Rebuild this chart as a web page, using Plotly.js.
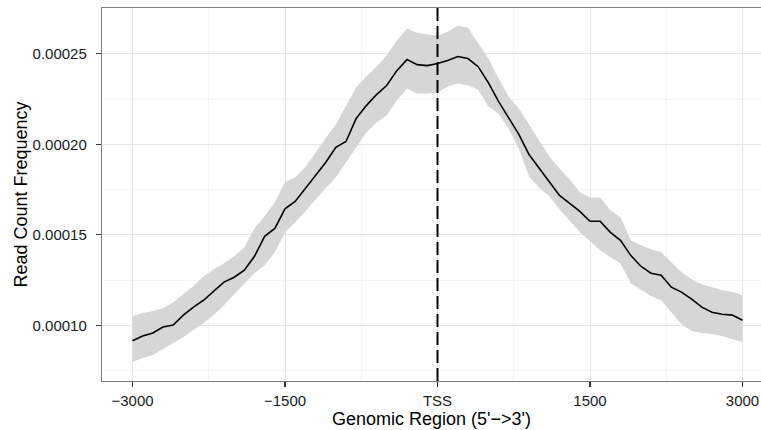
<!DOCTYPE html>
<html>
<head>
<meta charset="utf-8">
<script src="https://cdn.plot.ly/plotly-3.0.1.min.js"></script>
<style>html,body{margin:0;padding:0;background:#fff;}#chart{width:761px;height:430px;}</style>
</head>
<body>
<div id="chart"></div>
<script>
// Genomic positions relative to TSS
var positions = [-3000,-2900,-2800,-2700,-2600,-2500,-2400,-2300,-2200,-2100,-2000,-1900,-1800,-1700,-1600,-1500,-1400,-1300,-1200,-1100,-1000,-900,-800,-700,-600,-500,-400,-300,-200,-100,0,100,200,300,400,500,600,700,800,900,1000,1100,1200,1300,1400,1500,1600,1700,1800,1900,2000,2100,2200,2300,2400,2500,2600,2700,2800,2900,3000];
// Read count frequency (x 1e-5)
var frequency = [9.15,9.41,9.58,9.91,10.02,10.57,11.01,11.39,11.89,12.39,12.66,13.05,13.82,14.92,15.36,16.44,16.85,17.57,18.23,19.00,19.83,20.16,21.43,22.14,22.75,23.25,24.07,24.68,24.40,24.35,24.46,24.63,24.85,24.74,24.29,23.41,22.37,21.48,20.55,19.44,18.67,17.90,17.18,16.74,16.30,15.75,15.75,15.14,14.70,13.87,13.27,12.88,12.77,12.11,11.84,11.45,11.01,10.73,10.62,10.57,10.29];
var upperBand = [10.51,10.68,10.79,10.95,11.28,11.73,12.17,12.72,13.10,13.43,13.82,14.32,15.36,16.03,16.80,17.90,18.18,18.73,19.55,20.33,21.10,22.09,23.14,23.74,24.29,24.90,25.73,26.39,26.17,26.06,26.00,26.22,26.55,26.44,25.62,24.74,23.63,22.64,21.98,21.10,20.22,19.33,18.67,18.07,17.35,17.07,17.07,16.36,15.97,14.70,14.43,14.21,14.04,13.49,12.94,12.55,12.28,12.11,11.95,11.84,11.67];
var lowerBand = [7.98,8.20,8.36,8.69,9.02,9.36,9.74,10.13,10.57,11.12,11.73,12.28,12.88,13.32,14.04,15.14,15.69,16.30,16.96,17.57,18.18,19.00,19.83,20.66,21.21,21.59,22.42,23.08,22.81,22.81,22.86,23.19,23.36,23.25,23.03,22.09,21.70,20.88,19.77,18.23,17.62,17.13,16.41,15.75,15.14,14.65,14.15,13.77,13.43,12.33,11.95,11.62,11.39,10.73,10.07,9.69,9.58,9.52,9.41,9.24,9.08];
var valueScale = 1e-5;
var tssPosition = 0;
var xTickVals = [-3000,-1500,0,1500,3000];
var xTickText = ['\u22123000','\u22121500','TSS','1500','3000'];
var yTickVals = [0.00010,0.00015,0.00020,0.00025];
var yTickText = ['0.00010','0.00015','0.00020','0.00025'];

function sc(a){return a.map(function(v){return v*valueScale;});}

var traces = [
  {x: positions, y: sc(lowerBand), type:'scatter', mode:'lines', line:{width:0, color:'#d6d6d6'}, hoverinfo:'skip', showlegend:false},
  {x: positions, y: sc(upperBand), type:'scatter', mode:'lines', fill:'tonexty', fillcolor:'#d6d6d6', line:{width:0, color:'#d6d6d6'}, hoverinfo:'skip', showlegend:false},
  {x: positions, y: sc(frequency), type:'scatter', mode:'lines', line:{width:1.6, color:'#000000'}, showlegend:false}
];

var tickFont = {family:'Liberation Sans, Arial, sans-serif', size:15, color:'#1a1a1a'};
var titleFont = {family:'Liberation Sans, Arial, sans-serif', size:18, color:'#000000'};

var layout = {
  width:761, height:430,
  margin:{l:102, r:0, t:8, b:49, pad:0},
  paper_bgcolor:'#ffffff', plot_bgcolor:'#ffffff',
  showlegend:false,
  xaxis:{
    range:[-3300, 3182], tickvals:xTickVals, ticktext:xTickText,
    showline:true, linecolor:'#7f7f7f', linewidth:1.2, mirror:true,
    ticks:'outside', ticklen:5, tickcolor:'#333333', tickwidth:1.2,
    showgrid:true, gridcolor:'#e6e6e6', gridwidth:1,
    minor:{tickvals:[-2250,-750,750,2250], showgrid:true, gridcolor:'#f4f4f4', gridwidth:1, ticks:''},
    zeroline:false, tickfont:tickFont, ticklabelstandoff:1,
    title:{text:"Genomic Region (5'\u2212>3')", font:titleFont, standoff:1}
  },
  yaxis:{
    range:[0.0000693, 0.0002753], tickvals:yTickVals, ticktext:yTickText,
    showline:true, linecolor:'#7f7f7f', linewidth:1.2, mirror:false,
    ticks:'outside', ticklen:5, tickcolor:'#333333', tickwidth:1.2,
    showgrid:true, gridcolor:'#e6e6e6', gridwidth:1,
    minor:{tickvals:[0.000075,0.000125,0.000175,0.000225], showgrid:true, gridcolor:'#f4f4f4', gridwidth:1, ticks:''},
    zeroline:false, tickfont:tickFont, ticklabelstandoff:6,
    title:{text:'Read Count Frequency', font:titleFont, standoff:0}
  },
  shapes:[{type:'line', xref:'x', yref:'paper', x0:tssPosition, x1:tssPosition, y0:0, y1:1, line:{color:'#000000', width:2, dash:'13px,5px'}, layer:'above'}]
};

Plotly.newPlot('chart', traces, layout, {displayModeBar:false, staticPlot:true});
</script>
</body>
</html>
